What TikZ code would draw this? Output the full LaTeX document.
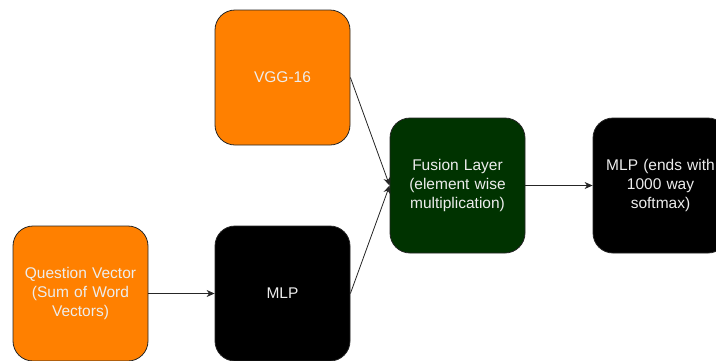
\documentclass[tikz,border=0pt]{standalone}
\usepackage{fontspec}
\setmainfont{Liberation Sans}
\usetikzlibrary{arrows.meta}
\definecolor{boxorange}{HTML}{FF8000}
\definecolor{fusiongreen}{HTML}{003300}
\definecolor{txt}{HTML}{EDEDED}
\begin{document}
\begin{tikzpicture}[x=1pt,y=-1pt,
  blk/.style={draw=black!85, line width=0.8pt, rounded corners=20pt, minimum width=135pt, minimum height=135pt,
    text=txt, align=center, font=\fontsize{15.5}{19}\selectfont, inner sep=0pt, text width=130pt},
  conn/.style={draw=black!85, line width=0.8pt, -{Stealth[length=8pt,width=7pt,inset=2.5pt]}}]
\useasboundingbox (0,0) rectangle (716,360);
\node[blk, fill=boxorange] (vgg) at (282.5,77.5) {VGG-16};
\node[blk, fill=fusiongreen] (fusion) at (457.5,185.5) {Fusion Layer\\(element wise\\multiplication)};
\node[blk, fill=black] (out) at (660.5,185.5) {MLP (ends with\\1000 way\\softmax)};
\node[blk, fill=boxorange] (q) at (80.5,293.5) {Question Vector\\(Sum of Word\\Vectors)};
\node[blk, fill=black] (mlp) at (282.5,293.5) {MLP};
\draw[conn] (vgg.east) -- (fusion.west);
\draw[conn] (mlp.east) -- (fusion.west);
\draw[conn] (q.east) -- (mlp.west);
\draw[conn] (fusion.east) -- (out.west);
\end{tikzpicture}
\end{document}
